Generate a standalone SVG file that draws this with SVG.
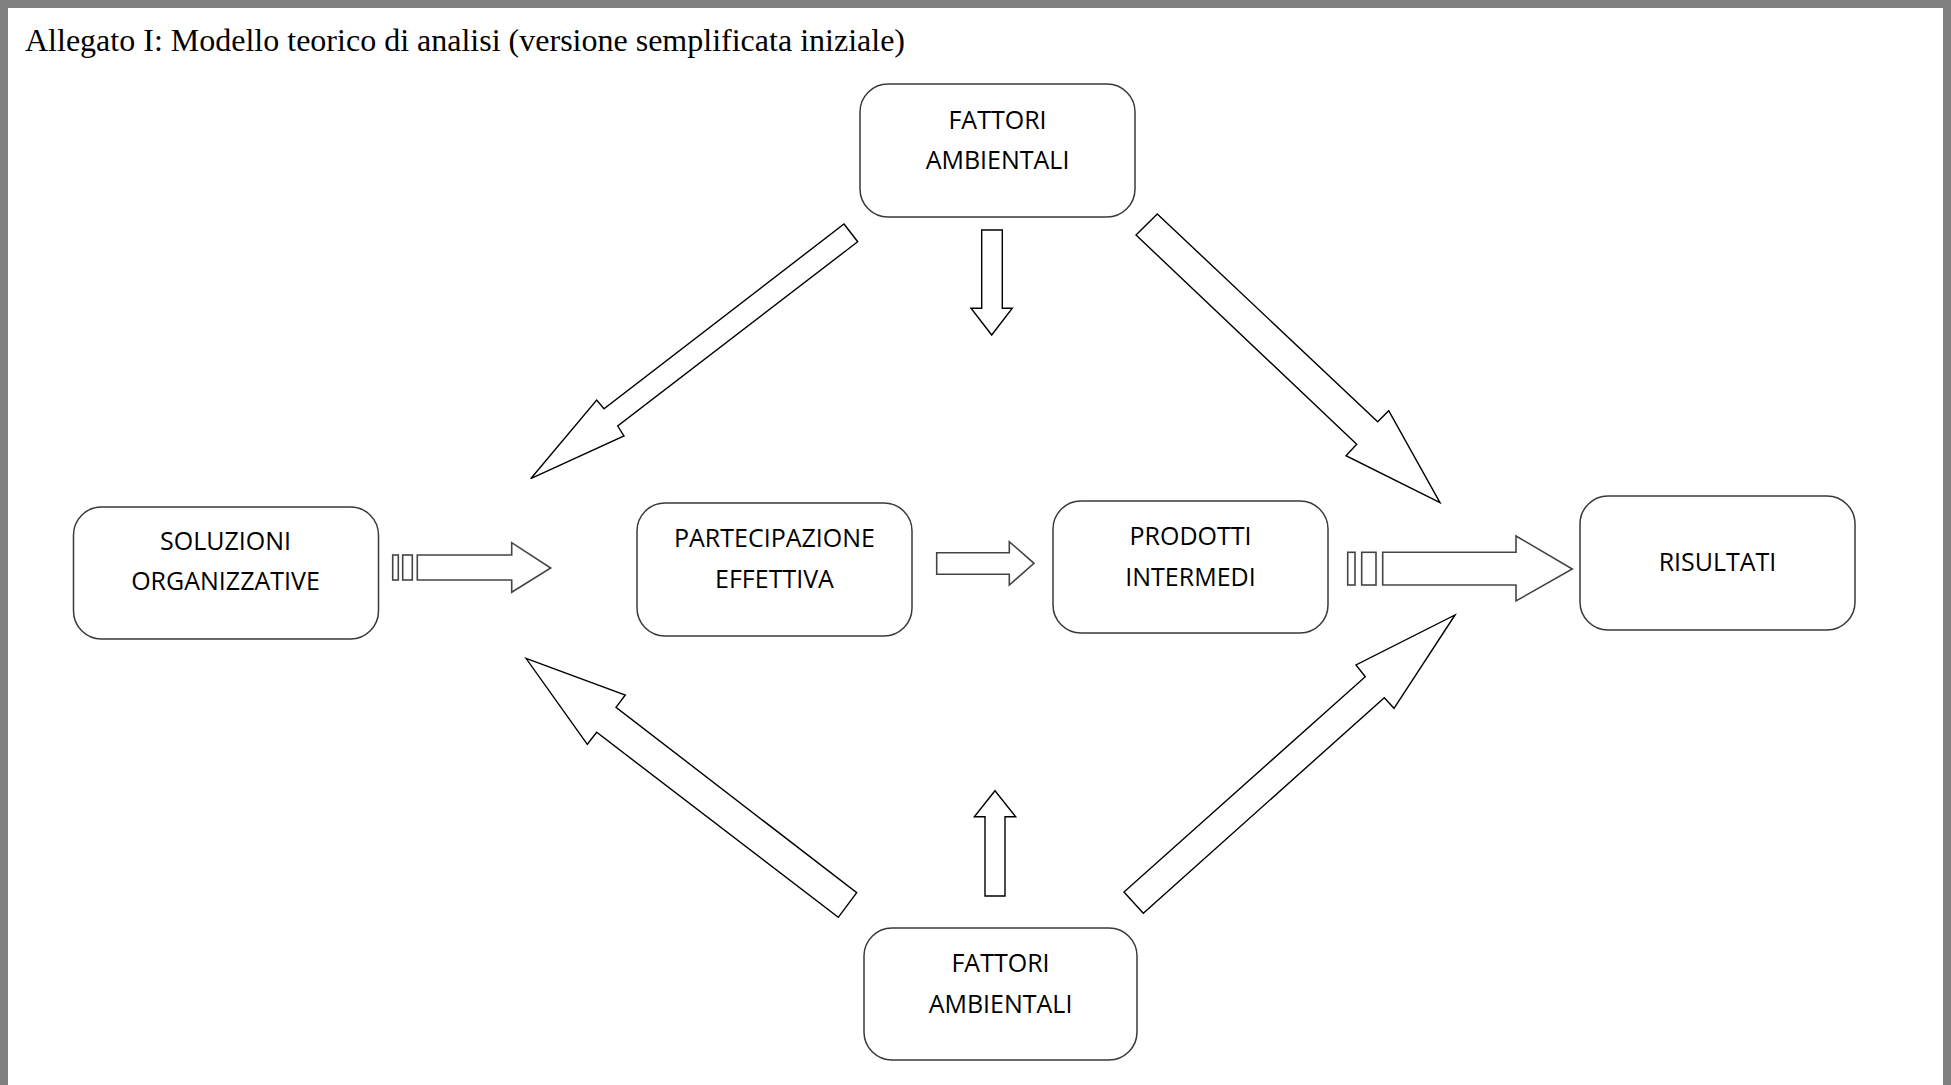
<svg xmlns="http://www.w3.org/2000/svg" width="1951" height="1085" viewBox="0 0 1951 1085">
<style>
.box{fill:#fff;stroke:#3a3a3a;stroke-width:1.5}
.lbl{font-family:"Open Sans",sans-serif;font-size:25px;fill:#000;text-anchor:middle}
.arr{fill:#fff;stroke:#000;stroke-width:1.4;stroke-linejoin:miter}
.arr2{fill:#fff;stroke:#444;stroke-width:1.6}
</style>
<rect x="0" y="0" width="1951" height="1085" fill="#fff"/>
<rect x="4" y="4" width="1943" height="1100" fill="none" stroke="#808080" stroke-width="8"/>
<text x="25" y="51" font-family="Liberation Serif, serif" font-size="32" fill="#000" textLength="880" lengthAdjust="spacingAndGlyphs">Allegato I: Modello teorico di analisi (versione semplificata iniziale)</text>

<g id="connectors">
<polygon class="arr" points="844,224 857.7,241.7 617.7,426 624,436 530.7,478.7 596.7,400 604,408.7"/>
<polygon class="arr" points="1157.3,214 1377.7,421.7 1388.7,410.7 1440,502.7 1346,455.7 1356.7,444.3 1136,235"/>
<polygon class="arr" points="981.7,230 1002.3,230 1002.3,308.3 1012.3,308.3 991.7,335 971,308.3 981.7,308.3"/>
<polygon class="arr" points="526,658.3 625.3,695 616,707.3 856.7,892.7 838.3,917.3 596.7,732.3 587.3,744.3"/>
<polygon class="arr" points="1455,615 1394,708.3 1384.3,697.7 1143.3,913.3 1124,892 1365.3,676.7 1356,665"/>
<polygon class="arr" points="995,790.7 1015.7,816.7 1005,816.7 1005,896 985,896 985,816.7 974.3,816.7"/>
<rect class="arr2" x="392.7" y="555" width="5.6" height="25"/>
<rect class="arr2" x="402.7" y="555" width="9.6" height="25"/>
<polygon class="arr2" points="417.3,555 511.7,555 511.7,542.7 550.7,568 511.7,592.3 511.7,580 417.3,580"/>
<polygon class="arr2" points="936.7,552.7 1009.3,552.7 1009.3,541.7 1034,563.3 1009.3,585 1009.3,574.3 936.7,574.3"/>
<rect class="arr2" x="1347.7" y="552.3" width="7.3" height="32.7"/>
<rect class="arr2" x="1361.7" y="552.3" width="14.3" height="32.7"/>
<polygon class="arr2" points="1382.7,552.3 1516,552.3 1516,536 1572.3,569 1516,601 1516,585 1382.7,585"/>
</g>

<g id="fattori-top">
<rect class="box" x="860" y="84" width="275" height="133" rx="28"/>
<text class="lbl" x="997.5" y="129">FATTORI</text>
<text class="lbl" x="997.5" y="169">AMBIENTALI</text>
</g>
<g id="soluzioni">
<rect class="box" x="73.5" y="507" width="305" height="132" rx="28"/>
<text class="lbl" x="225.5" y="550">SOLUZIONI</text>
<text class="lbl" x="225.5" y="590">ORGANIZZATIVE</text>
</g>
<g id="partecipazione">
<rect class="box" x="637" y="503" width="275" height="133" rx="28"/>
<text class="lbl" x="774.5" y="546.5">PARTECIPAZIONE</text>
<text class="lbl" x="774.5" y="587.5">EFFETTIVA</text>
</g>
<g id="prodotti">
<rect class="box" x="1053" y="501" width="275" height="132" rx="28"/>
<text class="lbl" x="1190.5" y="545.3">PRODOTTI</text>
<text class="lbl" x="1190.5" y="586.4">INTERMEDI</text>
</g>
<g id="risultati">
<rect class="box" x="1580" y="496" width="275" height="134" rx="28"/>
<text class="lbl" x="1717.5" y="571.4">RISULTATI</text>
</g>
<g id="fattori-bottom">
<rect class="box" x="864" y="928" width="273" height="132" rx="28"/>
<text class="lbl" x="1000.5" y="972">FATTORI</text>
<text class="lbl" x="1000.5" y="1013">AMBIENTALI</text>
</g>
</svg>
